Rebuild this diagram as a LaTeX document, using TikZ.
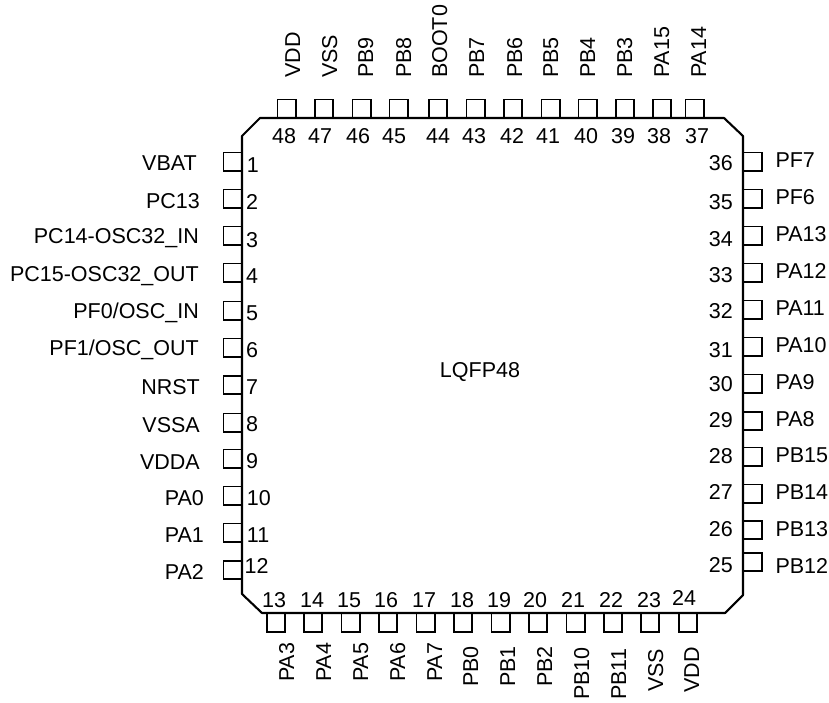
\documentclass[tikz,border=0pt]{standalone}
\usepackage{fontspec}
\setmainfont{Liberation Sans}
\tikzset{
 pad/.style={draw, line width=1.8pt, rectangle, inner sep=0pt, minimum size=18.2pt},
 pinlabel/.style={inner sep=0pt, font=\fontsize{21.5}{25}\selectfont},
 pkgline/.style={line width=2.1pt, line join=round}
}
\begin{document}
\begin{tikzpicture}[x=1pt, y=-1pt]
 \useasboundingbox (0, 0) rectangle (829, 702);
 % left side
 \foreach \n/\py/\nx/\ny/\lx/\ly/\lab in {
  1/161.5/246.7/172/197/170/VBAT, 2/198.5/246/209/200/208/PC13,
  3/235.5/246/247/199/243/PC14-OSC32\_IN, 4/272.5/246/283/199/281/PC15-OSC32\_OUT,
  5/310.5/246/320/199/318/{PF0/OSC\_IN}, 6/347.5/246/357/199/355/{PF1/OSC\_OUT},
  7/385/246/394/200/394/NRST, 8/422.5/246/431/200/432/VSSA,
  9/458.5/246/468/200/469/VDDA, 10/495.5/246.7/505/204/505/PA0,
  11/532.5/246.7/542/204/542/PA1, 12/570/244.4/573/204/579/PA2} {
  \node [pad] (pad\n) at (232.5, \py) {};
  \node [pinlabel, anchor=base west] (num\n) at (\nx, \ny) {\n};
  \node [pinlabel, anchor=base east] (lab\n) at (\lx, \ly) {\lab};
 }
 % right side
 \foreach \n/\py/\ny/\ly/\lab in {
  36/161.5/170/167/PF7, 35/198.5/209/204/PF6, 34/235.5/246/241/PA13,
  33/272.5/282/278/PA12, 32/309.5/318/315/PA11, 31/346.5/357/352/PA10,
  30/383.5/391/389/PA9, 29/421/427/426/PA8, 28/456.5/463/462/PB15,
  27/493.5/499/499/PB14, 26/530/536/536/PB13, 25/562/572/573/PB12} {
  \node [pad] (pad\n) at (752.5, \py) {};
  \node [pinlabel, anchor=base east] (num\n) at (733, \ny) {\n};
  \node [pinlabel, anchor=base west] (lab\n) at (775.3, \ly) {\lab};
 }
 % top side
 \foreach \n/\px/\nx/\lx/\lab in {
  48/286.5/284/300/VDD, 47/324/320/337/VSS, 46/361.5/358/373/PB9,
  45/398.5/394/411/PB8, 44/438/438/447/BOOT0, 43/475.5/474/484/PB7,
  42/513/512/522/PB6, 41/550.5/548/558/PB5, 40/587.5/586/595/PB4,
  39/625/623/632/PB3, 38/662/659/669/PA15, 37/694.5/697/706/PA14} {
  \node [pad] (pad\n) at (\px, 108.5) {};
  \node [pinlabel, anchor=base] (num\n) at (\nx, 143) {\n};
  \node [pinlabel, anchor=base west, rotate=90] (lab\n) at (\lx, 78) {\lab};
 }
 % bottom side
 \foreach \n/\px/\nx/\ny/\lx/\ly/\lab in {
  13/276/274/607/294/682/PA3, 14/313/312/607/331/682/PA4,
  15/350.5/349/607/368/682/PA5, 16/388/386/607/405/682/PA6,
  17/425.5/424/607/442/682/PA7, 18/463/462/607/478/687/PB0,
  19/500.5/499/607/515/687/PB1, 20/538/535/607/552/687/PB2,
  21/575.5/573/607/589/700/PB10, 22/613/611/607/626/700/PB11,
  23/650/649/607/663/692/VSS, 24/688/684/605/699/693/VDD} {
  \node [pad] (pad\n) at (\px, 622.5) {};
  \node [pinlabel, anchor=base] (num\n) at (\nx, \ny) {\n};
  \node [pinlabel, anchor=base west, rotate=90] (lab\n) at (\lx, \ly) {\lab};
 }
 \draw [pkgline] (242, 136) -- (260, 118) -- (724, 118) -- (743, 136)
  -- (743, 595) -- (725, 613) -- (262, 613) -- (242, 594) -- cycle;
 \node [pinlabel, anchor=base] (pkgname) at (480, 377) {LQFP48};
\end{tikzpicture}
\end{document}
